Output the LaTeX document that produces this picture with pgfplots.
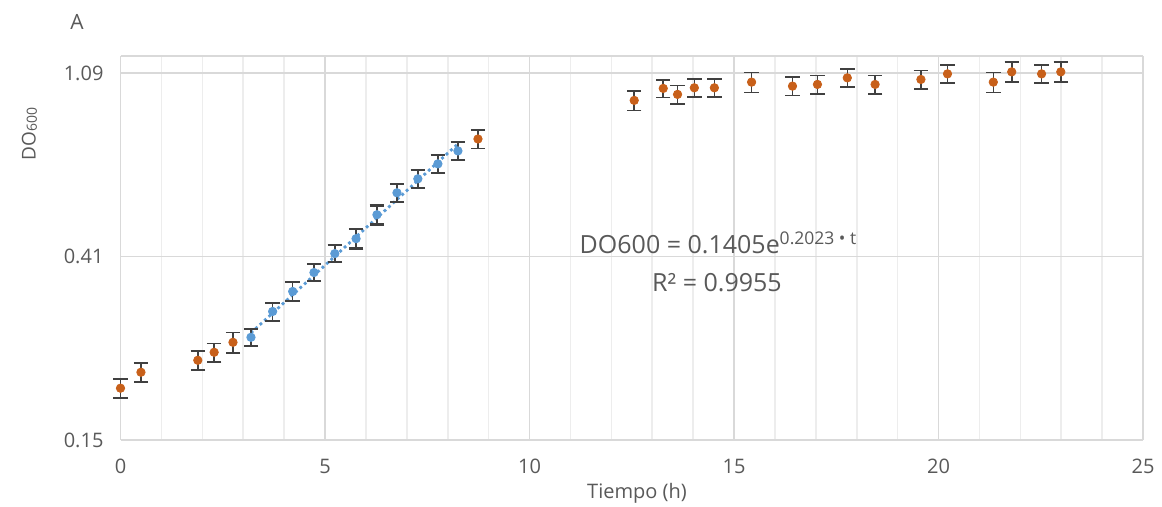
\documentclass[border=0pt]{standalone}
\usepackage{pgfplots}
\pgfplotsset{compat=1.18}
\usepackage{pgfplotstable}
\usepackage{fontspec}
\setmainfont{Open Sans}
\definecolor{txt}{HTML}{595959}
\definecolor{orng}{HTML}{C8601A}
\definecolor{blu}{HTML}{5B9BD5}
\definecolor{errc}{HTML}{404040}
\definecolor{gmaj}{HTML}{D9D9D9}
\definecolor{gmin}{HTML}{EDEDED}

\pgfplotstableread{
x y e
0.00 0.1986 0.010
0.50 0.2165 0.011
1.89 0.2310 0.012
2.29 0.2412 0.012
2.75 0.2546 0.014
8.74 0.7657 0.039
12.56 0.9436 0.050
13.27 1.0068 0.048
13.62 0.9747 0.049
14.03 1.0101 0.050
14.52 1.0101 0.050
15.43 1.0417 0.056
16.43 1.0194 0.051
17.04 1.0288 0.052
17.77 1.0661 0.052
18.45 1.0288 0.052
19.57 1.0569 0.052
20.22 1.0893 0.054
21.34 1.0417 0.056
21.79 1.1012 0.059
22.52 1.0893 0.054
22.99 1.1012 0.059
}\orange

\pgfplotstableread{
x y e
3.19 0.2616 0.0125
3.72 0.3009 0.0146
4.21 0.3353 0.017
4.73 0.3715 0.017
5.24 0.4116 0.019
5.76 0.4463 0.023
6.27 0.5080 0.026
6.76 0.5721 0.028
7.27 0.6171 0.030
7.76 0.6691 0.033
8.25 0.7177 0.035
}\blue

\begin{document}
\begin{tikzpicture}
\path[use as bounding box] (-60.25pt,-33.5pt) rectangle (520.75pt,220pt);
\begin{axis}[
  at={(0,0)}, anchor=south west,
  scale only axis, width=511.25pt, height=192pt,
  xmin=0, xmax=25, ymode=log, log basis y=2.7,
  ymin=0.15, ymax=1.2,
  xtick={0,5,...,25}, minor xtick={1,2,3,4,6,7,8,9,11,12,13,14,16,17,18,19,21,22,23,24},
  ytick={0.15,0.405,1.0935}, yticklabels={0.15,0.41,1.09},
  major tick length=0pt, minor tick length=0pt,
  xmajorgrids, ymajorgrids, xminorgrids,
  major grid style={gmaj, line width=0.8pt},
  minor grid style={gmin, line width=0.8pt},
  axis line style={gmaj, line width=0.8pt},
  separate axis lines,
  x axis line style={draw=gmaj},
  tick label style={font=\fontsize{10}{12}\selectfont, text=txt},
  /pgf/number format/assume math mode=true,
  yticklabel style={xshift=-5pt},
  xticklabel style={yshift=-6pt},
  clip=false,
]
\addplot[blu, line width=1.4pt, dash pattern=on 1.4pt off 1.6pt, forget plot] coordinates {(3.19,0.2679) (8.25,0.7456)};
\addplot[only marks, mark=*, mark size=2.1pt, color=orng,
  error bars/.cd, y dir=both, y explicit,
  error bar style={errc, line width=0.8pt},
  error mark options={errc, rotate=90, mark size=3.6pt, line width=0.8pt}]
  table[x=x, y=y, y error=e] {\orange};
\addplot[only marks, mark=*, mark size=2.1pt, color=blu,
  error bars/.cd, y dir=both, y explicit,
  error bar style={errc, line width=0.8pt},
  error mark options={errc, rotate=90, mark size=3.6pt, line width=1.1pt}]
  table[x=x, y=y, y error=e] {\blue};
\end{axis}
\node[text=txt, font=\fontsize{10.5}{12}\selectfont] at (-21.75pt,209pt) {A};
\node[text=txt, font=\fontsize{9.5}{12}\selectfont, rotate=90] at (-45.5pt,153pt) {DO\raisebox{-0.6pt}{\fontsize{7}{8}\selectfont 600}};
\node[text=txt, font=\fontsize{10}{12}\selectfont] at (258.25pt,-26.5pt) {Tiempo (h)};
\node[text=txt, font=\fontsize{12.5}{14}\selectfont] at (299pt,98.5pt) {DO600 = 0.1405e\textsuperscript{0.2023 • t}};
\node[text=txt, font=\fontsize{12.5}{14}\selectfont] at (298.25pt,78.5pt) {R² = 0.9955};
\end{tikzpicture}
\end{document}
